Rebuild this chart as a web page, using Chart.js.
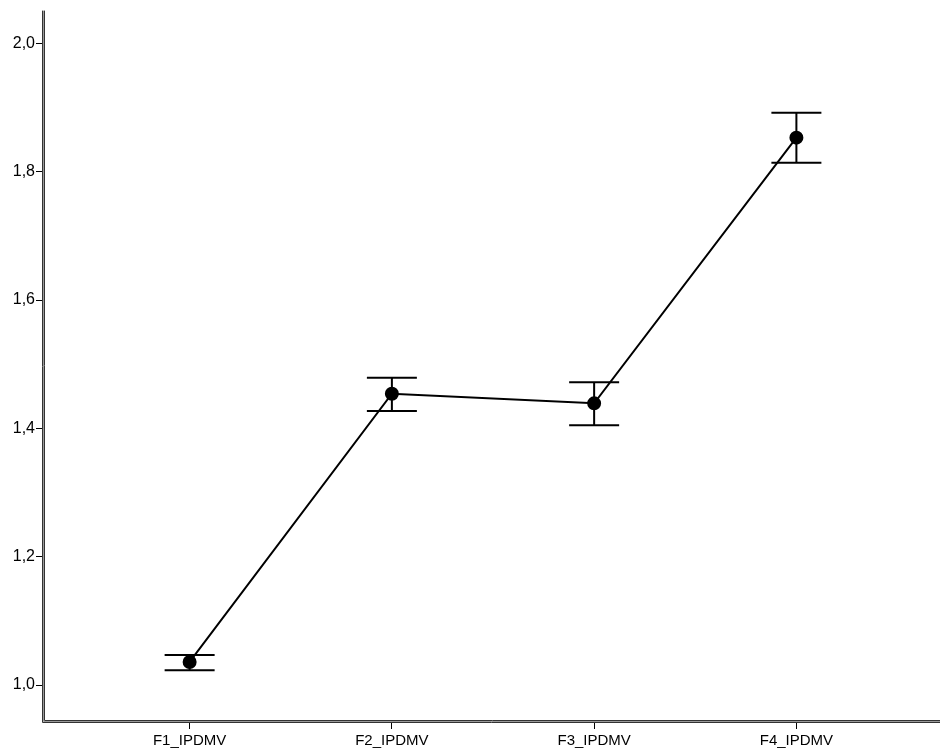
<!DOCTYPE html>
<html>
<head>
<meta charset="utf-8">
<script src="https://cdn.jsdelivr.net/npm/chart.js@4"></script>
<style>
  html, body { margin: 0; padding: 0; background: #fff; }
  #wrap { width: 951px; height: 756px; }
</style>
</head>
<body>
<div id="wrap"><canvas id="meanChart"></canvas></div>
<script>
// Dados
const categories = ['F1_IPDMV', 'F2_IPDMV', 'F3_IPDMV', 'F4_IPDMV'];
const means = [1.036, 1.454, 1.439, 1.853];
const upper = [1.047, 1.479, 1.472, 1.892];
const lower = [1.023, 1.427, 1.405, 1.814];
const yTicks = [1.0, 1.2, 1.4, 1.6, 1.8, 2.0];

// Barras de erro desenhadas pelas escalas do Chart.js
const errorBars = {
    id: 'errorBars',
    afterDatasetsDraw(chart) {
        const { ctx, scales: { x, y } } = chart;
        ctx.save();
        ctx.strokeStyle = '#000';
        ctx.lineWidth = 2;
        means.forEach((m, i) => {
            const px = x.getPixelForValue(i);
            const top = y.getPixelForValue(upper[i]);
            const bot = y.getPixelForValue(lower[i]);
            ctx.beginPath();
            ctx.moveTo(px, top); ctx.lineTo(px, bot);
            ctx.moveTo(px - 25, top); ctx.lineTo(px + 25, top);
            ctx.moveTo(px - 25, bot); ctx.lineTo(px + 25, bot);
            ctx.stroke();
        });
        ctx.restore();
    }
};

// Eixos com linha dupla (estilo SPSS)
const doubleAxes = {
    id: 'doubleAxes',
    afterDraw(chart) {
        const { ctx, chartArea: a } = chart;
        ctx.save();
        ctx.lineWidth = 1;
        ctx.strokeStyle = '#333';
        ctx.beginPath();
        ctx.moveTo(a.left - 1.5, a.top); ctx.lineTo(a.left - 1.5, a.bottom + 1.5); ctx.lineTo(a.right, a.bottom + 1.5);
        ctx.moveTo(a.left + 0.5, a.top); ctx.lineTo(a.left + 0.5, a.bottom - 0.5); ctx.lineTo(a.right, a.bottom - 0.5);
        ctx.stroke();
        ctx.strokeStyle = '#999';
        ctx.beginPath();
        ctx.moveTo(a.left - 0.5, a.top); ctx.lineTo(a.left - 0.5, a.bottom + 0.5); ctx.lineTo(a.right, a.bottom + 0.5);
        ctx.stroke();
        ctx.restore();
    }
};

new Chart(document.getElementById('meanChart'), {
    type: 'line',
    data: {
        datasets: [{
            data: means.map((v, i) => ({ x: i, y: v })),
            borderColor: '#000',
            backgroundColor: '#000',
            borderWidth: 2,
            pointRadius: 6,
            pointBackgroundColor: '#000',
            tension: 0
        }]
    },
    options: {
        responsive: true,
        maintainAspectRatio: false,
        animation: false,
        layout: { padding: { top: 10, right: 11, left: 0, bottom: 0 } },
        plugins: {
            legend: { display: false },
            tooltip: { enabled: false }
        },
        scales: {
            x: {
                type: 'linear',
                min: -0.72,
                max: 3.71,
                afterBuildTicks: s => { s.ticks = categories.map((c, i) => ({ value: i })); },
                afterFit: s => { s.height = 35; },
                grid: { drawOnChartArea: false, drawTicks: true, tickLength: 8, color: '#000', lineWidth: 1 },
                border: { display: false },
                ticks: {
                    callback: v => categories[v],
                    color: '#000',
                    font: { family: 'Liberation Sans, Arial', size: 15 },
                    padding: 3,
                    maxRotation: 0
                }
            },
            y: {
                min: 0.944,
                max: 2.051,
                afterBuildTicks: s => { s.ticks = yTicks.map(v => ({ value: v })); },
                afterFit: s => { s.width = 44; },
                grid: { drawOnChartArea: false, drawTicks: true, tickLength: 8, color: '#000', lineWidth: 1 },
                border: { display: false },
                ticks: {
                    callback: v => v.toFixed(1).replace('.', ','),
                    color: '#000',
                    font: { family: 'Liberation Sans, Arial', size: 16 },
                    padding: 1
                }
            }
        }
    },
    plugins: [errorBars, doubleAxes]
});
</script>
</body>
</html>
